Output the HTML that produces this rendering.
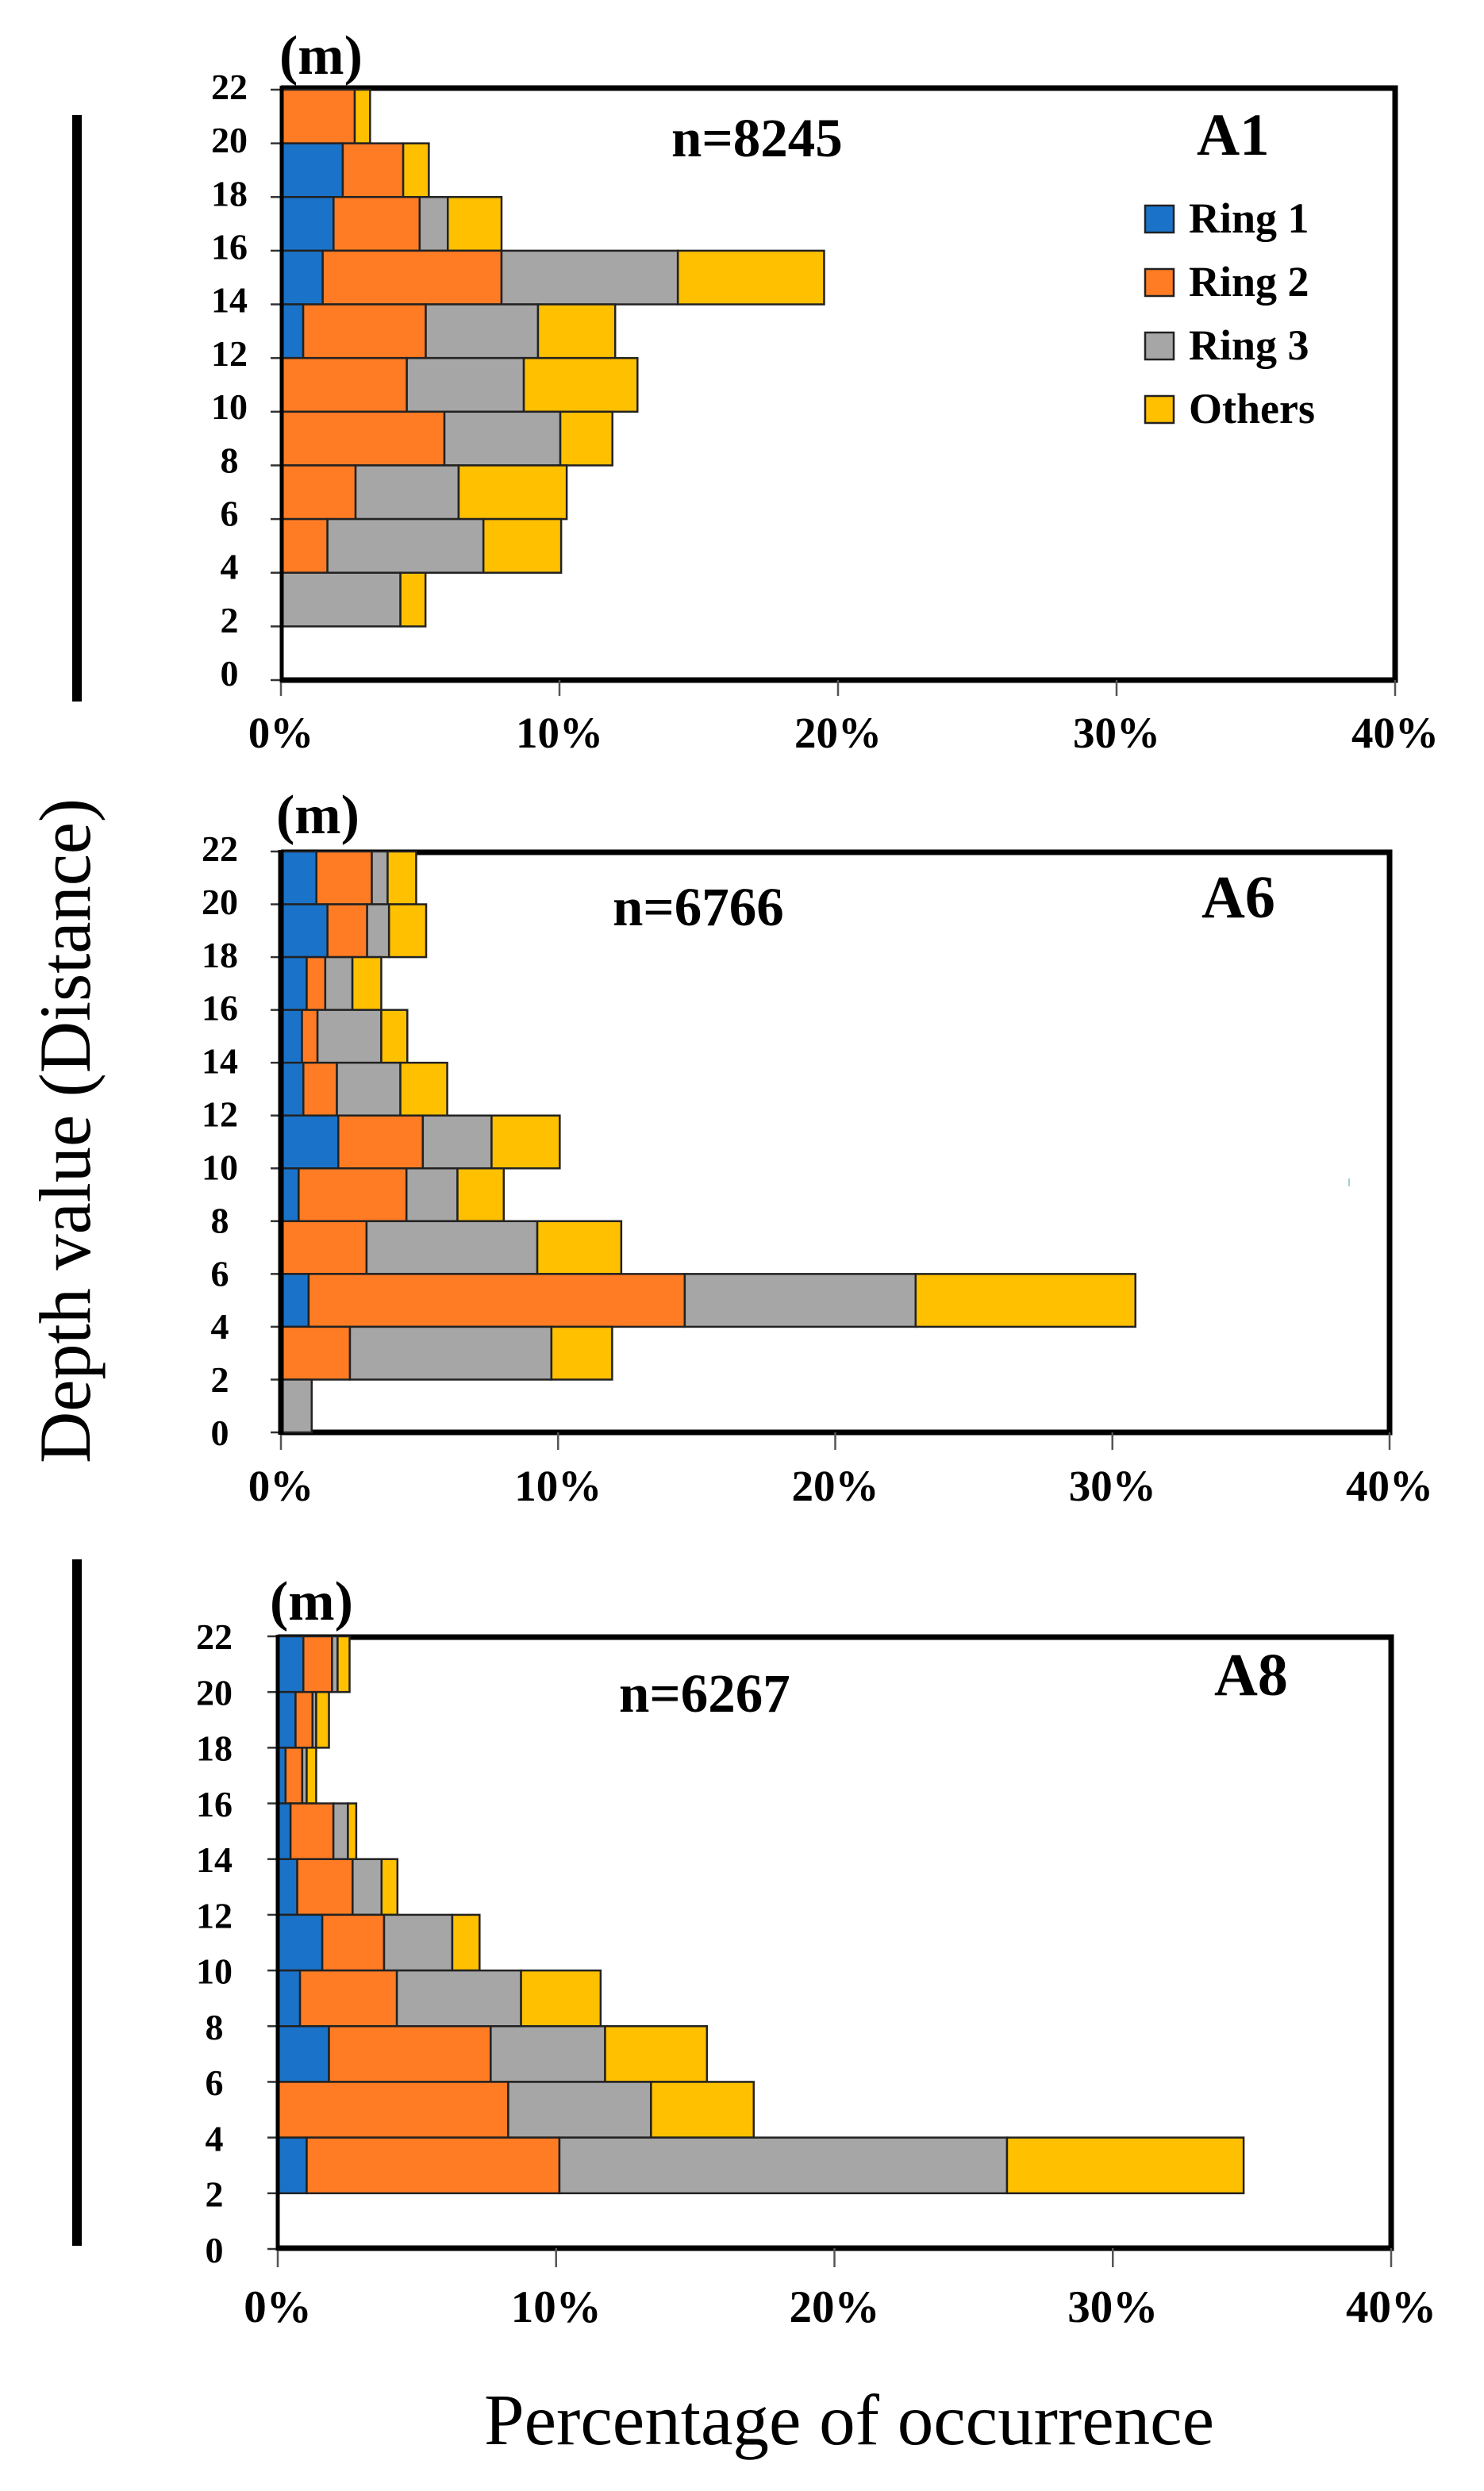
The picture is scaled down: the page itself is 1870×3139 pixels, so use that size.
<!DOCTYPE html>
<html lang="en">
<head>
<meta charset="utf-8">
<title>Depth distribution by ring</title>
<style>
html,body{margin:0;padding:0;background:#fff;}
svg{display:block;}
text{font-family:"Liberation Serif",serif;fill:#000;}
.b{font-weight:bold;}
</style>
</head>
<body>
<svg id="figure" xmlns="http://www.w3.org/2000/svg" width="1870" height="3139" viewBox="0 0 1870 3139">
  <rect x="0" y="0" width="1870" height="3139" fill="#fff"/>
  <rect x="91" y="145" width="12" height="739" fill="#000"/>
  <rect x="91" y="1965" width="12" height="865" fill="#000"/>
  <text transform="translate(113 1844) rotate(-90)" font-size="92" textLength="838" lengthAdjust="spacingAndGlyphs">Depth value (Distance)</text>
  <text x="610" y="3080" font-size="91" textLength="920" lengthAdjust="spacingAndGlyphs">Percentage of occurrence</text>

  <g id="panel-a1"></g>
  <g id="panel-a6"></g>
  <g id="panel-a8"></g>

  <g>
    <text class="b" x="352" y="93" font-size="70">(m)</text>
    <text class="b" x="846" y="197" font-size="69">n=8245</text>
    <text class="b" x="1508" y="195" font-size="75">A1</text>
  </g>
  <g>
    <text class="b" x="348" y="1050" font-size="70">(m)</text>
    <text class="b" x="772" y="1166" font-size="69">n=6766</text>
    <text class="b" x="1514" y="1156" font-size="76">A6</text>
  </g>
  <g>
    <text class="b" x="340" y="2041" font-size="70">(m)</text>
    <text class="b" x="780" y="2157" font-size="69">n=6267</text>
    <text class="b" x="1530" y="2136" font-size="76">A8</text>
  </g>

  <g>
    <g>
      <rect x="1443" y="259" width="36" height="34" fill="#1a73c9" stroke="#222" stroke-width="2.5"/>
      <text class="b" x="1498" y="293" font-size="54">Ring 1</text>
    </g>
    <g>
      <rect x="1443" y="339" width="36" height="34" fill="#ff7c24" stroke="#222" stroke-width="2.5"/>
      <text class="b" x="1498" y="373" font-size="54">Ring 2</text>
    </g>
    <g>
      <rect x="1443" y="419" width="36" height="34" fill="#a6a6a6" stroke="#222" stroke-width="2.5"/>
      <text class="b" x="1498" y="453" font-size="54">Ring 3</text>
    </g>
    <g>
      <rect x="1443" y="499" width="36" height="34" fill="#ffc000" stroke="#222" stroke-width="2.5"/>
      <text class="b" x="1498" y="533" font-size="54">Others</text>
    </g>
  </g>
  <rect x="1699" y="1485" width="2" height="10" fill="#a8cfd0"/>
</svg>

<script>
// Depth bins, listed top of chart to bottom (each bar spans binTops[i] down to binTops[i] - 2 m)
const binTops = [22, 20, 18, 16, 14, 12, 10, 8, 6, 4, 2];
const yTickLabels = [22, 20, 18, 16, 14, 12, 10, 8, 6, 4, 2, 0];
const xTickLabels = [0, 10, 20, 30, 40];
const seriesNames = ['ring-1', 'ring-2', 'ring-3', 'others'];

// Panel A1 (% of occurrence per bin)
const a1Ring1  = [0, 2.22, 1.89, 1.5, 0.8, 0, 0, 0, 0, 0, 0];
const a1Ring2  = [2.65, 2.17, 3.09, 6.42, 4.4, 4.52, 5.87, 2.68, 1.67, 0, 0];
const a1Ring3  = [0, 0, 1.01, 6.33, 4.03, 4.2, 4.16, 3.7, 5.6, 4.29, 0];
const a1Others = [0.55, 0.92, 1.93, 5.25, 2.77, 4.08, 1.87, 3.88, 2.79, 0.9, 0];

// Panel A6
const a6Ring1  = [1.28, 1.68, 0.93, 0.76, 0.81, 2.07, 0.64, 0, 1.0, 0, 0];
const a6Ring2  = [2.0, 1.43, 0.67, 0.56, 1.21, 3.05, 3.89, 3.09, 13.57, 2.49, 0];
const a6Ring3  = [0.57, 0.79, 0.98, 2.3, 2.29, 2.48, 1.84, 6.16, 8.33, 7.27, 1.11];
const a6Others = [1.03, 1.34, 1.04, 0.94, 1.69, 2.46, 1.67, 3.03, 7.93, 2.19, 0];

// Panel A8
const a8Ring1  = [0.92, 0.64, 0.28, 0.46, 0.7, 1.6, 0.8, 1.84, 0, 1.04, 0];
const a8Ring2  = [1.03, 0.61, 0.6, 1.54, 1.99, 2.22, 3.48, 5.81, 8.28, 9.08, 0];
const a8Ring3  = [0.2, 0.13, 0.16, 0.52, 1.04, 2.45, 4.46, 4.11, 5.13, 16.08, 0];
const a8Others = [0.43, 0.46, 0.34, 0.3, 0.57, 0.98, 2.86, 3.66, 3.69, 8.5, 0];

const seriesColors = { 'ring-1': '#1a73c9', 'ring-2': '#ff7c24', 'ring-3': '#a6a6a6', 'others': '#ffc000' };
const SVG_NS = 'http://www.w3.org/2000/svg';

function make(tag, parent, attrs, txt) {
  const node = document.createElementNS(SVG_NS, tag);
  for (const k in attrs) node.setAttribute(k, attrs[k]);
  if (txt !== undefined) node.textContent = txt;
  parent.appendChild(node);
  return node;
}

function drawPanel(id, series, g) {
  const root = document.getElementById(id);
  const xScale = p => g.x0 + (p / 40) * (g.x40 - g.x0);
  const yScale = d => g.y0 + (d / 22) * (g.y22 - g.y0);
  const labelY = d => g.labelY0 + (d / 22) * (g.labelY22 - g.labelY0) + 15;

  // frame (top, right, bottom)
  const frame = make('path', root, {
    d: 'M' + xScale(0) + ' ' + g.frameTop + 'H' + xScale(40) + 'V' + g.frameBottom + 'H' + xScale(0),
    fill: 'none', stroke: '#000', 'stroke-width': 7, 'stroke-linejoin': 'miter'
  });
  
  

  // y ticks and labels
  yTickLabels.forEach(d => {
    const tick = make('line', root, {
      x1: xScale(0) - 13, x2: xScale(0), y1: yScale(d), y2: yScale(d), stroke: '#333', 'stroke-width': 2.5
    });
    
    
    const lab = make('text', root, {
      x: g.labelX, y: labelY(d), 'text-anchor': 'middle', 'font-size': 46, 'font-weight': 'bold'
    }, String(d));
    
    
  });

  // x ticks and labels
  xTickLabels.forEach(p => {
    const tick = make('line', root, {
      x1: xScale(p), x2: xScale(p), y1: g.frameBottom, y2: g.tickEnd, stroke: '#555', 'stroke-width': 2.5
    });
    
    
    const lab = make('text', root, {
      x: xScale(p), y: g.xLabelBaseline, 'text-anchor': 'middle', 'font-size': g.xLabelSize, 'font-weight': 'bold'
    }, p + '%');
    
    
  });

  // stacked bars
  binTops.forEach((top, i) => {
    let acc = 0;
    seriesNames.forEach((name, s) => {
      const v = series[s][i];
      if (v <= 0) return;
      const bar = make('rect', root, {
        x: xScale(acc), y: yScale(top), width: xScale(acc + v) - xScale(acc), height: yScale(top - 2) - yScale(top),
        fill: seriesColors[name], stroke: '#222', 'stroke-width': 2.5
      });
      
      
      acc += v;
    });
  });

  // left axis line on top of the bars
  const axis = make('line', root, {
    x1: xScale(0) + g.axisShift, x2: xScale(0) + g.axisShift, y1: g.frameTop - 3, y2: g.frameBottom + 3,
    stroke: '#000', 'stroke-width': g.axisWidth
  });
  
  
}

drawPanel('panel-a1', [a1Ring1, a1Ring2, a1Ring3, a1Others], {
  x0: 354, x40: 1758, y0: 857, y22: 113, frameTop: 111, frameBottom: 857, tickEnd: 877,
  labelX: 289, labelY0: 849, labelY22: 110, xLabelBaseline: 942, xLabelSize: 55, axisShift: 1, axisWidth: 5
});
drawPanel('panel-a6', [a6Ring1, a6Ring2, a6Ring3, a6Others], {
  x0: 354, x40: 1751, y0: 1805, y22: 1073, frameTop: 1074, frameBottom: 1805, tickEnd: 1827,
  labelX: 277, labelY0: 1806, labelY22: 1070, xLabelBaseline: 1891, xLabelSize: 55, axisShift: 0, axisWidth: 7
});
drawPanel('panel-a8', [a8Ring1, a8Ring2, a8Ring3, a8Others], {
  x0: 350, x40: 1753, y0: 2834, y22: 2062, frameTop: 2063, frameBottom: 2833, tickEnd: 2857,
  labelX: 270, labelY0: 2836, labelY22: 2063, xLabelBaseline: 2926, xLabelSize: 57, axisShift: 0, axisWidth: 5
});
</script>
</body>
</html>
